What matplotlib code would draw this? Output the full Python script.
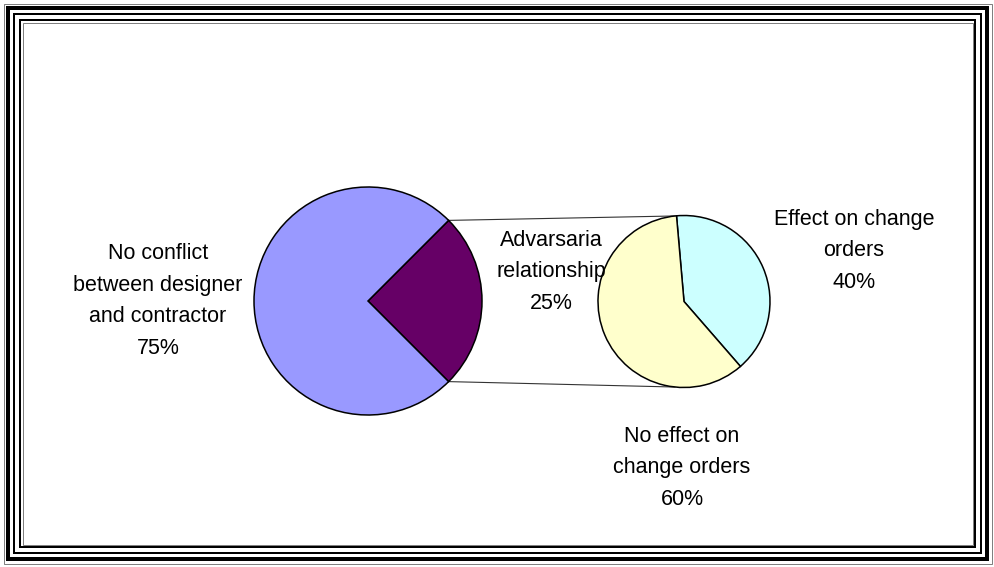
import matplotlib.pyplot as plt
from matplotlib.patches import Rectangle
import numpy as np

plt.rcParams['font.family'] = ['Liberation Sans', 'DejaVu Sans']

W, H = 995, 567

# main pie
main_labels = ["Advarsaria\nrelationship\n25%", "No conflict\nbetween designer\nand contractor\n75%"]
main_values = [25, 75]
main_colors = ["#660066", "#9999FF"]

# secondary pie (split of the adversarial share)
sub_labels = ["Effect on change\norders\n40%", "No effect on\nchange orders\n60%"]
sub_values = [40, 60]
sub_colors = ["#CCFFFF", "#FFFFCC"]

fig = plt.figure(figsize=(W / 100, H / 100), dpi=100)
ax = fig.add_axes([0, 0, 1, 1])

main_c = (368, H - 301)
main_r = 114
sub_c = (684, H - 301.5)
sub_r = 86

main_start = -360 * main_values[0] / 100 / 2
wedges1, _ = ax.pie(main_values, colors=main_colors, startangle=main_start,
                    center=main_c, radius=main_r, counterclock=True,
                    wedgeprops=dict(edgecolor="black", linewidth=1.1))
sub_start = 95 - 360 * sub_values[0] / 100
wedges2, _ = ax.pie(sub_values, colors=sub_colors, startangle=sub_start,
                    center=sub_c, radius=sub_r, counterclock=True,
                    wedgeprops=dict(edgecolor="black", linewidth=1.1))

# connector lines from the split slice to the second pie
w = wedges1[0]
for a1, a2 in [(w.theta2, 96), (w.theta1, 264)]:
    x1 = main_c[0] + main_r * np.cos(np.radians(a1))
    y1 = main_c[1] + main_r * np.sin(np.radians(a1))
    x2 = sub_c[0] + sub_r * np.cos(np.radians(a2))
    y2 = sub_c[1] + sub_r * np.sin(np.radians(a2))
    ax.plot([x1, x2], [y1, y2], color="#333333", linewidth=0.8, zorder=0)

# data labels (image pixel positions)
label_pos = [(551, 272), (158, 301), (854, 251), (682, 468)]
for txt, (x, y) in zip(main_labels + sub_labels, label_pos):
    ax.text(x, H - y, txt, ha="center", va="center", fontsize=15.5,
            linespacing=1.65, color="black")

ax.set_xlim(0, W)
ax.set_ylim(0, H)
ax.set_aspect("auto")
ax.axis("off")

# decorative multi-line frame
for inset, lw, col in [(3.5, 1, "#808080"), (8, 4, "black"), (14, 2, "black"),
                       (20, 2, "black"), (22.5, 1, "#808080")]:
    ax.add_patch(Rectangle((inset, inset), W - 2 * inset, H - 2 * inset,
                           fill=False, edgecolor=col, linewidth=lw * 0.72,
                           zorder=5))

fig.savefig("out.png", dpi=100)
